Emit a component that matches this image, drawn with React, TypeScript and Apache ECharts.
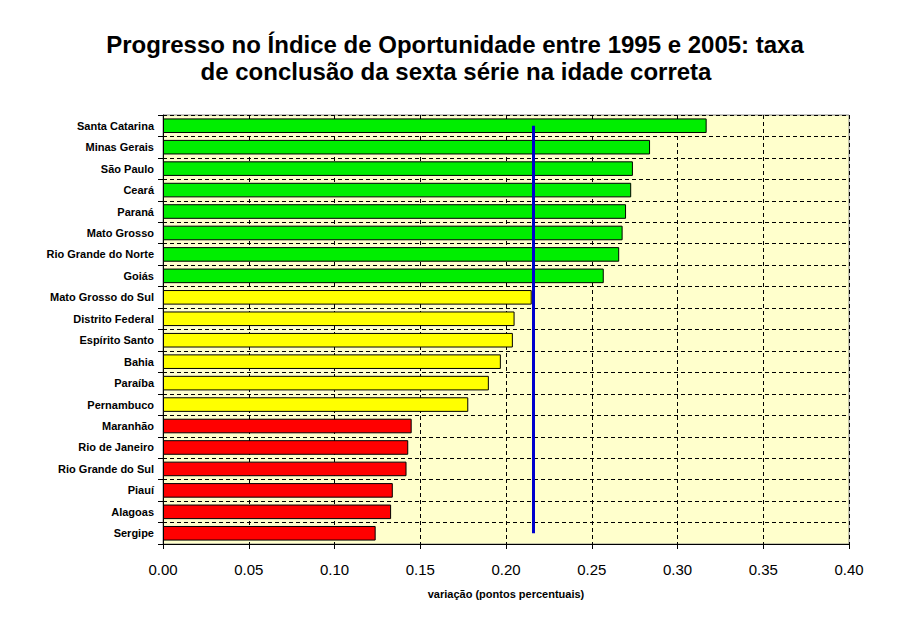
import React, { useEffect, useRef } from "react";
import * as echarts from "echarts";

const states = [
  "Santa Catarina", "Minas Gerais", "São Paulo", "Ceará", "Paraná", "Mato Grosso",
  "Rio Grande do Norte", "Goiás", "Mato Grosso do Sul", "Distrito Federal",
  "Espírito Santo", "Bahia", "Paraíba", "Pernambuco", "Maranhão", "Rio de Janeiro",
  "Rio Grande do Sul", "Piauí", "Alagoas", "Sergipe",
];
const values = [
  0.317, 0.284, 0.274, 0.273, 0.270, 0.268, 0.266, 0.257, 0.215, 0.205,
  0.204, 0.197, 0.190, 0.178, 0.145, 0.143, 0.142, 0.134, 0.133, 0.124,
];
const groups = [
  "high", "high", "high", "high", "high", "high", "high", "high",
  "mid", "mid", "mid", "mid", "mid", "mid",
  "low", "low", "low", "low", "low", "low",
];
const groupColors: Record<string, string> = { high: "#00EE00", mid: "#FFFF00", low: "#FF0000" };
const averageValue = 0.216;
const xTicks = { min: 0, max: 0.4, interval: 0.05 };
const titleLines = [
  "Progresso no Índice de Oportunidade entre 1995 e 2005: taxa",
  "de conclusão da sexta série na idade correta",
];

const titleStyle = {
  fontFamily: "Liberation Sans, Arial, sans-serif",
  fontSize: 24,
  fontWeight: "bold",
  color: "#000",
};

export default function App() {
  const ref = useRef<HTMLDivElement>(null);
  useEffect(() => {
    if (!ref.current) return;
    const chart = echarts.init(ref.current, null, { renderer: "svg" });
    chart.setOption({
      animation: false,
      backgroundColor: "#FFFFFF",
      title: [
        { text: titleLines[0], left: 442, top: 19, textAlign: "center", textStyle: titleStyle },
        { text: titleLines[1], left: 443, top: 46, textAlign: "center", textStyle: titleStyle },
      ],
      grid: {
        left: 155,
        right: 47,
        top: 107,
        bottom: 73,
        show: true,
        backgroundColor: "#FFFFCC",
        borderColor: "#8C8C8C",
        borderWidth: 1,
      },
      xAxis: {
        type: "value",
        min: xTicks.min,
        max: xTicks.max,
        interval: xTicks.interval,
        name: "variação (pontos percentuais)",
        nameLocation: "middle",
        nameGap: 44,
        nameTextStyle: {
          fontFamily: "Liberation Sans, Arial, sans-serif",
          fontSize: 11,
          fontWeight: "bold",
          color: "#000",
        },
        axisLine: { show: true, lineStyle: { color: "#000", width: 1 } },
        axisTick: { show: true, length: 5, inside: false, lineStyle: { color: "#000" } },
        axisLabel: {
          formatter: (v: number) => v.toFixed(2),
          fontFamily: "Liberation Sans, Arial, sans-serif",
          fontSize: 15,
          color: "#000",
          margin: 18,
        },
        splitLine: { show: true, lineStyle: { color: "#000", type: [4, 3], width: 1 } },
      },
      yAxis: {
        type: "category",
        data: states,
        inverse: true,
        boundaryGap: true,
        axisLine: { show: true, lineStyle: { color: "#000", width: 1 } },
        axisTick: { show: true, length: 5, lineStyle: { color: "#000" } },
        axisLabel: {
          fontFamily: "Liberation Sans, Arial, sans-serif",
          fontSize: 11,
          fontWeight: "bold",
          color: "#000",
          margin: 9,
        },
        splitLine: { show: true, lineStyle: { color: "#000", type: [4, 3], width: 1 } },
      },
      series: [
        {
          type: "bar",
          data: values.map((v, i) => ({
            value: v,
            itemStyle: { color: groupColors[groups[i]] },
          })),
          barCategoryGap: "32%",
          itemStyle: { borderColor: "#000", borderWidth: 1 },
          markLine: {
            silent: true,
            symbol: "none",
            label: { show: false },
            lineStyle: { color: "#0000CC", width: 3, type: "solid" },
            data: [
              [
                { coord: [averageValue, states[0]] },
                { coord: [averageValue, states[states.length - 1]] },
              ],
            ],
          },
        },
      ],
    });
    return () => chart.dispose();
  }, []);
  return <div ref={ref} style={{ width: 888, height: 609 }} />;
}
